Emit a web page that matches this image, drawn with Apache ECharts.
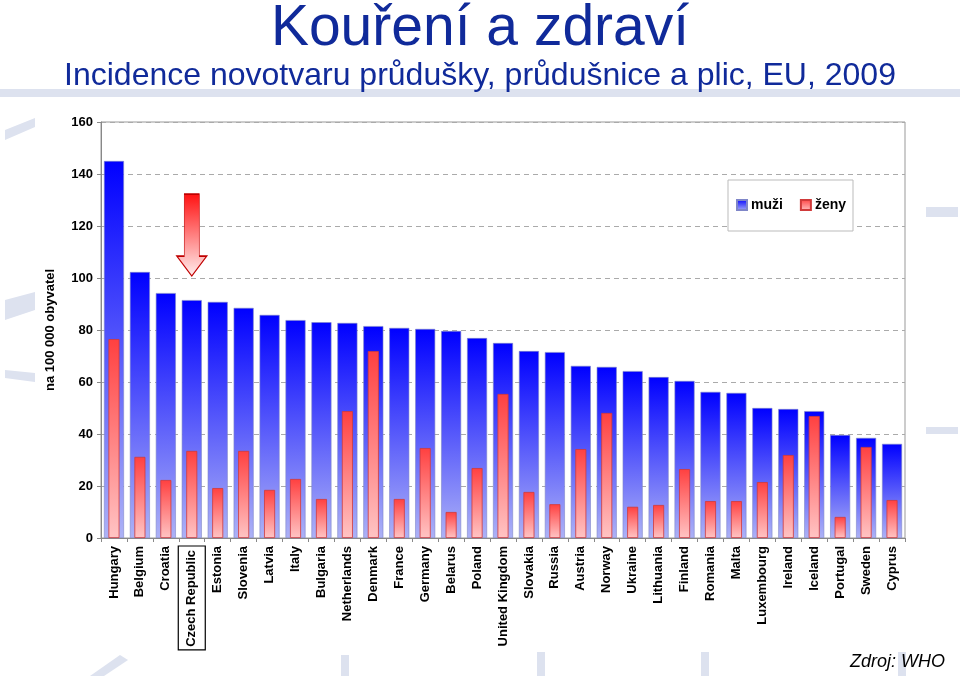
<!DOCTYPE html>
<html><head><meta charset="utf-8">
<script src="https://cdn.jsdelivr.net/npm/echarts@6/dist/echarts.min.js"></script>
<style>html,body{margin:0;padding:0;background:#fff}#c{width:960px;height:676px}</style>
</head><body><div id="c"></div>
<script>
const categories = ['Hungary','Belgium','Croatia','Czech Republic','Estonia','Slovenia','Latvia','Italy','Bulgaria','Netherlands','Denmark','France','Germany','Belarus','Poland','United Kingdom','Slovakia','Russia','Austria','Norway','Ukraine','Lithuania','Finland','Romania','Malta','Luxembourg','Ireland','Iceland','Portugal','Sweden','Cyprus'];
const muzi = [145, 102.3, 94.2, 91.5, 90.8, 88.5, 85.8, 83.8, 83, 82.7, 81.5, 80.8, 80.4, 79.6, 76.9, 75, 71.9, 71.5, 66.2, 65.8, 64.2, 61.9, 60.4, 56.2, 55.8, 50, 49.6, 48.8, 39.6, 38.5, 36.2];
const zeny = [76.5, 31.2, 22.3, 33.5, 19.2, 33.5, 18.5, 22.7, 15, 48.8, 71.9, 15, 34.6, 10, 26.9, 55.4, 17.7, 13, 34.2, 48.1, 12, 12.7, 26.5, 14.2, 14.2, 21.5, 31.9, 46.9, 8.1, 35, 14.6];
const yTicks = [0, 20, 40, 60, 80, 100, 120, 140, 160];
const highlight = 'Czech Republic';
const arrowPos = ['Czech Republic', 116.5];

const chart = echarts.init(document.getElementById('c'));
const G = echarts.graphic.LinearGradient;
const blueGrad = new G(0,0,0,1,[{offset:0,color:'#0000ff'},{offset:1,color:'#adb2f6'}]);
const redGrad = new G(0,0,0,1,[{offset:0,color:'#ff4040'},{offset:1,color:'#ffc4c4'}]);
const arrowGrad = new G(0,0,0,1,[{offset:0,color:'#ff1010'},{offset:1,color:'#fff0f0'}]);
const deco = '#dde2ef';
chart.setOption({
  animation:false,
  backgroundColor:'#fff',
  title:[
    {text:'Kouření a zdraví', left:'center', top:-4, textStyle:{fontFamily:'Liberation Sans Narrow, Arial Narrow, Liberation Sans', fontSize:57, fontWeight:'normal', color:'#102a9a'}},
    {text:'Incidence novotvaru průdušky, průdušnice a plic, EU, 2009', left:'center', top:55, textStyle:{fontFamily:'Liberation Sans Narrow, Arial Narrow, Liberation Sans', fontSize:32, fontWeight:'normal', color:'#102a9a'}},
    {text:'Zdroj: WHO', right:10, top:648, textStyle:{fontFamily:'Liberation Sans, Arial', fontSize:18, fontStyle:'italic', fontWeight:'normal', color:'#000'}}
  ],
  graphic:[
    {type:'rect', z:-10, shape:{x:0,y:89,width:960,height:8}, style:{fill:deco}},
    {type:'rect', z:-10, shape:{x:926,y:207,width:32,height:10}, style:{fill:deco}},
    {type:'rect', z:-10, shape:{x:926,y:427,width:32,height:7}, style:{fill:deco}},
    {type:'rect', z:-10, shape:{x:341,y:655,width:8,height:21}, style:{fill:deco}},
    {type:'rect', z:-10, shape:{x:537,y:652,width:8,height:24}, style:{fill:deco}},
    {type:'rect', z:-10, shape:{x:701,y:652,width:8,height:24}, style:{fill:deco}},
    {type:'rect', z:-10, shape:{x:898,y:652,width:8,height:24}, style:{fill:deco}},
    {type:'polygon', z:-10, shape:{points:[[5,130],[35,118],[35,127],[5,140]]}, style:{fill:deco}},
    {type:'polygon', z:-10, shape:{points:[[5,300],[35,292],[35,310],[5,320]]}, style:{fill:deco}},
    {type:'polygon', z:-10, shape:{points:[[5,370],[35,373],[35,382],[5,378]]}, style:{fill:deco}},
    {type:'polygon', z:-10, shape:{points:[[90,676],[120,655],[128,660],[104,676]]}, style:{fill:deco}}
  ],
  legend:{
    data:['muži','ženy'], orient:'horizontal', left:728, top:180, icon:'rect',
    padding:[18,7,19,8], itemGap:17, itemWidth:10, itemHeight:10,
    borderColor:'#bbbbbb', borderWidth:1, backgroundColor:'#fff',
    textStyle:{fontFamily:'Liberation Sans, Arial', fontSize:14, fontWeight:'bold', color:'#000', padding:[0,0,0,-1]}
  },
  grid:{left:101, right:55, top:122, bottom:138, show:true, borderColor:'#999', borderWidth:1},
  xAxis:[
    {type:'category', data:categories, axisLine:{lineStyle:{color:'#888'}}, axisTick:{show:true, length:4, lineStyle:{color:'#888'}},
     axisLabel:{interval:0, rotate:90, margin:8, fontFamily:'Liberation Sans, Arial', fontSize:13, fontWeight:'bold', color:'#000',
       formatter:v => v===highlight ? '{box|'+v+'}' : v,
       rich:{box:{borderColor:'#000', borderWidth:1.2, padding:[7,4,7,3], fontFamily:'Liberation Sans, Arial', fontSize:13, fontWeight:'bold', color:'#000'}}}},
    {type:'category', data:categories, show:false}
  ],
  yAxis:{type:'value', min:0, max:160, interval:20,
    name:'na 100 000 obyvatel', nameLocation:'middle', nameGap:44, nameRotate:90,
    nameTextStyle:{fontFamily:'Liberation Sans, Arial', fontSize:13, fontWeight:'bold', color:'#000'},
    axisLine:{show:true, lineStyle:{color:'#888'}}, axisTick:{show:true, length:4, lineStyle:{color:'#888'}},
    axisLabel:{margin:8, fontFamily:'Liberation Sans, Arial', fontSize:13, fontWeight:'bold', color:'#000',
      formatter:v => yTicks.indexOf(v)>=0 ? String(v) : ''},
    splitLine:{lineStyle:{color:'#aaa', type:[5,4]}}},
  series:[
    {name:'muži', type:'bar', xAxisIndex:0, data:muzi, barWidth:20,
     itemStyle:{color:blueGrad, borderColor:'#7f86c8', borderWidth:0.6}},
    {name:'ženy', type:'bar', xAxisIndex:1, data:zeny, barWidth:11, z:3,
     itemStyle:{color:redGrad, borderColor:'#d03a3a', borderWidth:0.8},
     markPoint:{symbol:'path://M7.5,0 L22.5,0 L22.5,62 L30,62 L15,82 L0,62 L7.5,62 Z', symbolSize:[30,82], symbolKeepAspect:false,
       label:{show:false}, itemStyle:{color:arrowGrad, borderColor:'#c00000', borderWidth:1},
       data:[{coord:arrowPos}]}}
  ]
});
</script></body></html>
